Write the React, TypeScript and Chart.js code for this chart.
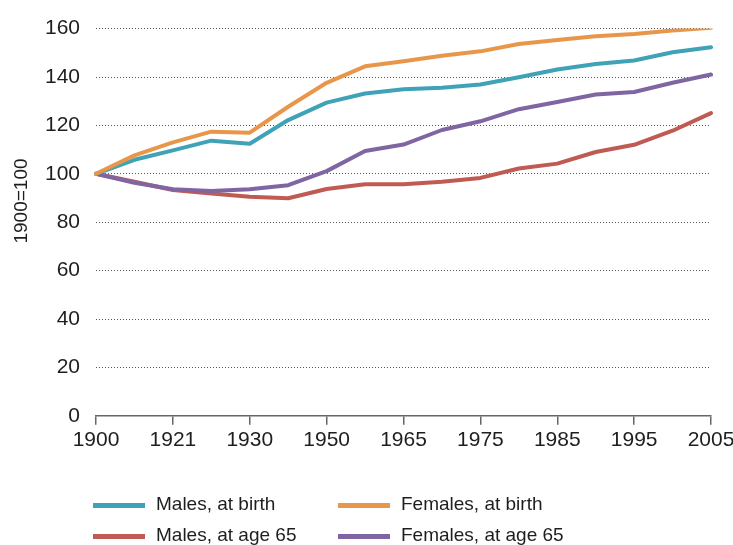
import React, { useEffect, useRef } from 'react';
import { Chart, registerables } from 'chart.js';

Chart.register(...registerables);

const categories = ['1900', '1910', '1921', '1925', '1930', '1940', '1950', '1960', '1965', '1970', '1975', '1980', '1985', '1990', '1995', '2000', '2005'];
const malesAtBirth = [100, 105.8, 109.7, 113.7, 112.4, 122.2, 129.4, 133.2, 134.9, 135.6, 136.9, 139.9, 143.1, 145.4, 146.8, 150.2, 152.3];
const femalesAtBirth = [100, 107.6, 113, 117.4, 117, 127.7, 137.6, 144.4, 146.5, 148.8, 150.6, 153.6, 155.3, 156.8, 157.8, 159.2, 160.3];
const malesAt65 = [100, 96.7, 93.3, 91.9, 90.5, 89.9, 93.7, 95.7, 95.7, 96.7, 98.3, 102.2, 104.2, 109, 112, 117.8, 125.1];
const femalesAt65 = [100, 96.3, 93.6, 92.9, 93.6, 95.3, 101.1, 109.4, 112.1, 118.1, 121.7, 126.7, 129.7, 132.8, 133.8, 137.6, 141];
const seriesNames = ['Males, at birth', 'Females, at birth', 'Males, at age 65', 'Females, at age 65'];
const seriesColors = ['#40a2b7', '#e8974a', '#bf5b53', '#7f65a1'];
const yAxisTitle = '1900=100';
const yMin = 0;
const yMax = 160;
const yStep = 20;

const FONT = '"Liberation Sans", Arial, Helvetica, sans-serif';
const TEXT = '#1e1e1e';

const overlayPlugin = {
  id: 'overlay',
  afterDraw(chart: any) {
    const ctx = chart.ctx;
    ctx.save();
    chart.data.datasets.forEach((ds: any, i: number) => {
      const col = i % 2;
      const row = Math.floor(i / 2);
      const sx = col === 0 ? 93 : 338;
      const sy = row === 0 ? 505.5 : 536.5;
      ctx.strokeStyle = ds.borderColor;
      ctx.lineWidth = 5;
      ctx.lineCap = 'butt';
      ctx.beginPath();
      ctx.moveTo(sx, sy);
      ctx.lineTo(sx + 52, sy);
      ctx.stroke();
      ctx.fillStyle = TEXT;
      ctx.font = `19px ${FONT}`;
      ctx.textAlign = 'left';
      ctx.textBaseline = 'alphabetic';
      ctx.fillText(ds.label, sx + 63, row === 0 ? 510 : 541);
    });
    ctx.translate(22, 201);
    ctx.rotate(-Math.PI / 2);
    ctx.fillStyle = TEXT;
    ctx.font = `19px ${FONT}`;
    ctx.textAlign = 'center';
    ctx.textBaseline = 'middle';
    ctx.fillText(yAxisTitle, 0, 0);
    ctx.restore();
  },
};

export default function App() {
  const ref = useRef<HTMLCanvasElement>(null);

  useEffect(() => {
    if (!ref.current) return;
    const series = [malesAtBirth, femalesAtBirth, malesAt65, femalesAt65];
    const orders = [1, 0, 3, 2];
    const chart = new Chart(ref.current, {
      type: 'line',
      data: {
        labels: categories,
        datasets: series.map((d, i) => ({
          label: seriesNames[i],
          data: d,
          borderColor: seriesColors[i],
          backgroundColor: seriesColors[i],
          borderWidth: 4,
          pointRadius: 0,
          tension: 0,
          borderJoinStyle: 'round' as const,
          borderCapStyle: 'round' as const,
          order: orders[i],
        })),
      },
      options: {
        responsive: false,
        animation: false,
        layout: { padding: { top: 27, left: 0, right: 0, bottom: 89 } },
        plugins: {
          legend: { display: false },
          tooltip: { enabled: false },
          title: { display: false },
        },
        scales: {
          x: {
            type: 'category',
            offset: false,
            border: { display: true, color: '#666666', width: 1.5 },
            grid: {
              drawOnChartArea: false,
              drawTicks: true,
              tickLength: 9,
              color: (c: any) => (c.index % 2 === 0 ? '#666666' : 'rgba(0,0,0,0)'),
              lineWidth: 1.5,
            },
            ticks: {
              autoSkip: false,
              maxRotation: 0,
              padding: 3,
              color: TEXT,
              font: { family: FONT, size: 21 },
              callback: function (this: any, val: any, idx: number) {
                return idx % 2 === 0 ? this.getLabelForValue(val) : '';
              },
            },
            afterFit: (scale: any) => {
              scale.paddingRight = 22;
              scale.paddingLeft = 0;
            },
          },
          y: {
            min: yMin,
            max: yMax,
            border: { display: false, dash: [1, 2] },
            grid: { color: '#555555', lineWidth: 1, drawTicks: false },
            ticks: {
              stepSize: yStep,
              padding: 16,
              color: TEXT,
              font: { family: FONT, size: 21 },
            },
            afterFit: (scale: any) => {
              scale.width = 96;
            },
          },
        },
      },
      plugins: [overlayPlugin],
    });
    return () => chart.destroy();
  }, []);

  return (
    <div style={{ position: 'fixed', left: 0, top: 0, width: 733, height: 545, background: '#fff' }}>
      <canvas ref={ref} width={733} height={545} style={{ display: 'block' }} />
    </div>
  );
}
